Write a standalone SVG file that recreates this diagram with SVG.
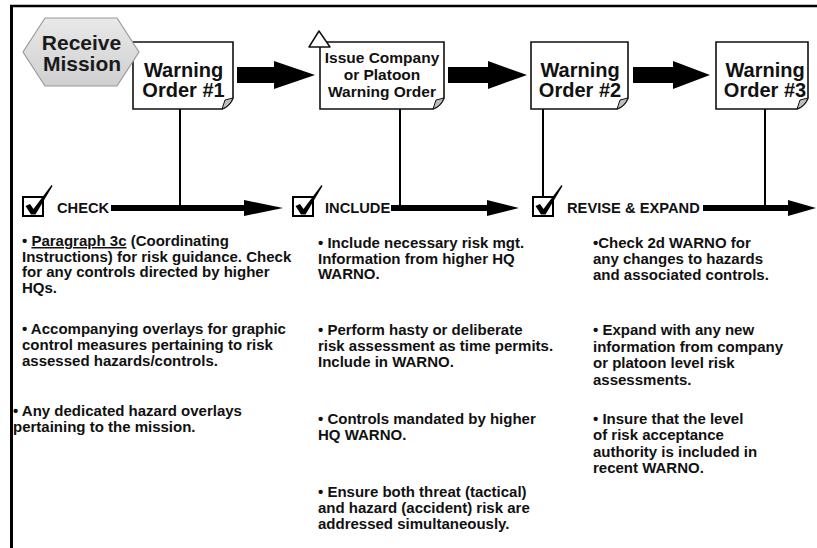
<svg xmlns="http://www.w3.org/2000/svg" xmlns:xlink="http://www.w3.org/1999/xlink" width="817" height="548" viewBox="0 0 817 548">
<style>
  text { font-family: "Liberation Sans", Arial, sans-serif; font-weight: bold; fill: #111; }
  .wo { font-size: 20px; text-anchor: middle; }
  .hx { font-size: 21px; text-anchor: middle; fill: #1a1a1a; }
  .iss { font-size: 15.5px; text-anchor: middle; }
  .lbl { font-size: 14.7px; }
  .body { font-size: 15px; }
  .box { fill: #fff; stroke: #111; stroke-width: 1.6; }
  .fold { fill: #bdbdbd; stroke: #111; stroke-width: 1; stroke-linejoin: round; }
  .thin { stroke: #000; stroke-width: 2; fill: none; }
  .thick { stroke: #000; stroke-width: 6; fill: none; }
  .head { fill: #000; }
</style>
<defs>
  <linearGradient id="hexg" x1="0" y1="0" x2="0" y2="1">
    <stop offset="0" stop-color="#e9e9e9"/>
    <stop offset="1" stop-color="#cfcfcf"/>
  </linearGradient>
  <g id="checkbox">
    <rect x="1" y="0" width="20" height="19" fill="#fff" stroke="#000" stroke-width="2"/>
    <path d="M3.5,9 L8,7 L11.5,12 L29.5,-12 L30.5,-11 L13.5,17.5 L9,17.5 Z" fill="#000"/>
  </g>
</defs>
<rect width="817" height="548" fill="#fff"/>
<g id="frame">
  <line x1="10" y1="6" x2="817" y2="6" stroke="#000" stroke-width="2.5"/>
  <line x1="11.5" y1="5" x2="11.5" y2="548" stroke="#000" stroke-width="3"/>
</g>

<g id="connectors">
  <line class="thin" x1="180" y1="109" x2="180" y2="208"/>
  <line class="thin" x1="400" y1="109" x2="400" y2="208"/>
  <line class="thin" x1="543" y1="109" x2="543" y2="197"/>
  <line class="thin" x1="765" y1="109" x2="765" y2="208"/>
  <path class="head" d="M237,67 H274 V61 L315,75 L274,89 V83 H237 Z"/>
  <path class="head" d="M448,67 H488 V61 L527,75 L488,89 V83 H448 Z"/>
  <path class="head" d="M633,67 H673 V61 L710,75 L673,89 V83 H633 Z"/>
  <line class="thick" x1="111" y1="208" x2="246" y2="208"/>
  <path class="head" d="M244,200 L283,208 L244,216 Z"/>
  <line class="thick" x1="391" y1="208" x2="490" y2="208"/>
  <path class="head" d="M487,200 L519,208 L487,216 Z"/>
  <line class="thick" x1="703" y1="208" x2="791" y2="208"/>
  <path class="head" d="M788,200 L816,208 L788,216 Z"/>
</g>

<g id="wo1">
  <path class="box" d="M133,42 H233 V98 Q230,106 222,109 H133 Z"/>
  <path class="fold" d="M222,109 L225,100 L233,98 Q230,106 222,109 Z"/>
  <text class="wo" x="183.5" y="76.5">Warning</text>
  <text class="wo" x="183.5" y="96.5">Order #1</text>
</g>

<g id="receive-mission">
  <polygon points="23,52 45,18 117,18 139,52 117,86 45,86" fill="url(#hexg)" stroke="#9a9a9a" stroke-width="1.2"/>
  <text class="hx" x="81.5" y="50">Receive</text>
  <text class="hx" x="82" y="71">Mission</text>
</g>

<g id="issue">
  <path class="box" d="M320,42 H444 V98 Q441,106 433,109 H320 Z"/>
  <path class="fold" d="M433,109 L436,100 L444,98 Q441,106 433,109 Z"/>
  <polygon points="309,47 319,31 330,47" fill="#fff" stroke="#111" stroke-width="1.5" stroke-linejoin="round"/>
  <text class="iss" x="382" y="63">Issue Company</text>
  <text class="iss" x="382" y="80">or Platoon</text>
  <text class="iss" x="382" y="97">Warning Order</text>
</g>

<g id="wo2">
  <path class="box" d="M531,42 H628 V98 Q625,106 617,109 H531 Z"/>
  <path class="fold" d="M617,109 L620,100 L628,98 Q625,106 617,109 Z"/>
  <text class="wo" x="580" y="76.5">Warning</text>
  <text class="wo" x="580" y="96.5">Order #2</text>
</g>

<g id="wo3">
  <path class="box" d="M716,42 H808 V98 Q805,106 797,109 H716 Z"/>
  <path class="fold" d="M797,109 L800,100 L808,98 Q805,106 797,109 Z"/>
  <text class="wo" x="765" y="76.5">Warning</text>
  <text class="wo" x="765" y="96.5">Order #3</text>
</g>

<g id="check">
  <use xlink:href="#checkbox" x="22" y="197"/>
  <text class="lbl" x="57" y="213">CHECK</text>
</g>
<g id="include">
  <use xlink:href="#checkbox" x="292" y="197"/>
  <text class="lbl" x="325" y="213">INCLUDE</text>
</g>
<g id="revise">
  <use xlink:href="#checkbox" x="532" y="197"/>
  <text class="lbl" x="567" y="213">REVISE &amp; EXPAND</text>
</g>

<g id="check-text">
  <text class="body" x="22" y="246">• <tspan text-decoration="underline">Paragraph 3c</tspan> (Coordinating</text>
  <text class="body" x="22" y="261.5">Instructions) for risk guidance. Check</text>
  <text class="body" x="22" y="277">for any controls directed by higher</text>
  <text class="body" x="22" y="292.5">HQs.</text>
  <text class="body" x="22" y="334">• Accompanying overlays for graphic</text>
  <text class="body" x="22" y="350">control measures pertaining to risk</text>
  <text class="body" x="22" y="366">assessed hazards/controls.</text>
  <text class="body" x="13" y="416">• Any dedicated hazard overlays</text>
  <text class="body" x="13" y="432">pertaining to the mission.</text>
</g>

<g id="include-text">
  <text class="body" x="318" y="248">• Include necessary risk mgt.</text>
  <text class="body" x="318" y="263.5">Information from higher HQ</text>
  <text class="body" x="318" y="279">WARNO.</text>
  <text class="body" x="318" y="335">• Perform hasty or deliberate</text>
  <text class="body" x="318" y="351">risk assessment as time permits.</text>
  <text class="body" x="318" y="367">Include in WARNO.</text>
  <text class="body" x="318" y="424">• Controls mandated by higher</text>
  <text class="body" x="318" y="440">HQ WARNO.</text>
  <text class="body" x="318" y="497">• Ensure both threat (tactical)</text>
  <text class="body" x="318" y="513">and hazard (accident) risk are</text>
  <text class="body" x="318" y="529">addressed simultaneously.</text>
</g>

<g id="revise-text">
  <text class="body" x="593" y="248">•Check 2d WARNO for</text>
  <text class="body" x="593" y="264">any changes to hazards</text>
  <text class="body" x="593" y="280">and associated controls.</text>
  <text class="body" x="593" y="335">• Expand with any new</text>
  <text class="body" x="593" y="351.5">information from company</text>
  <text class="body" x="593" y="368">or platoon level risk</text>
  <text class="body" x="593" y="384.5">assessments.</text>
  <text class="body" x="593" y="424">• Insure that the level</text>
  <text class="body" x="593" y="440">of risk acceptance</text>
  <text class="body" x="593" y="456.5">authority is included in</text>
  <text class="body" x="593" y="473">recent WARNO.</text>
</g>
</svg>
